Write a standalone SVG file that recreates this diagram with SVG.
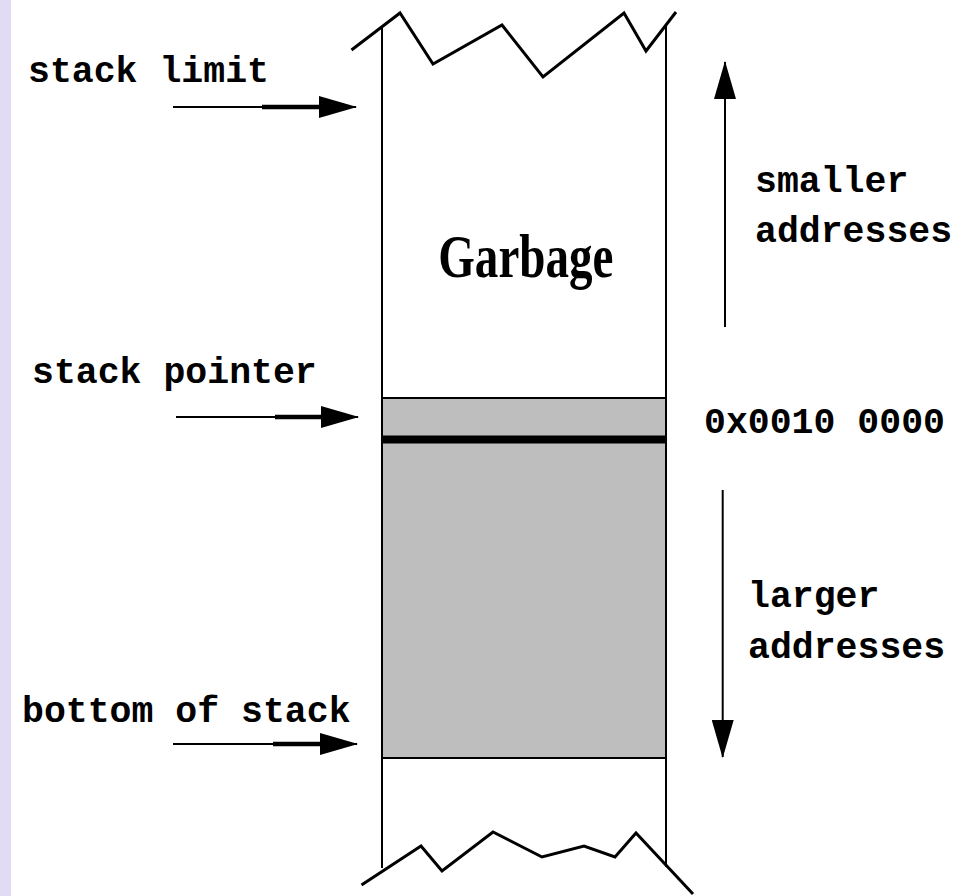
<svg xmlns="http://www.w3.org/2000/svg" width="971" height="896" viewBox="0 0 971 896">
  <style>
    .mono { font-family: "Liberation Mono", "Courier New", monospace; font-weight: bold; font-size: 36.5px; fill: #000; }
    .serif { font-family: "Liberation Serif", "Times New Roman", serif; font-weight: bold; font-size: 62px; fill: #000; }
    .edge { stroke: #000; stroke-width: 2; fill: none; }
    .used { stroke: #000; stroke-width: 2; fill: #bebebe; }
    .zig { stroke: #000; stroke-width: 3; fill: none; stroke-linejoin: miter; }
    .shaft { stroke: #000; stroke-width: 2; fill: none; }
    .thick { stroke: #000; stroke-width: 4.5; fill: none; }
  </style>
  <defs>
    <marker id="head" viewBox="0 0 38 22" refX="37" refY="11" markerWidth="38" markerHeight="22" markerUnits="userSpaceOnUse" orient="auto">
      <path d="M0,0 L38,11 L0,22 Z" fill="#000"/>
    </marker>
  </defs>

  <rect width="971" height="896" fill="#fff"/>
  <!-- side strip -->
  <rect x="0" y="0" width="11" height="896" fill="#e1dbf5"/>

  <!-- memory column -->
  <g id="stack-column">
    <rect x="382" y="398" width="284" height="360" class="used"/>
    <line x1="382" y1="439.5" x2="666" y2="439.5" stroke="#000" stroke-width="8"/>
    <line x1="382" y1="27" x2="382" y2="868" class="edge"/>
    <line x1="666" y1="25" x2="666" y2="867" class="edge"/>
    <polyline class="zig" points="351.5,50 400,13 433,64 502,25 543,77 624,13 646,51 676,12"/>
    <polyline class="zig" points="361.5,885 421,846 442,871 493,832 542,857 584,846 615,857 636,833 693,894"/>
    <text class="serif" x="525.8" y="277" text-anchor="middle" textLength="175" lengthAdjust="spacingAndGlyphs">Garbage</text>
  </g>

  <!-- labels -->
  <g id="label-stack-limit"><text class="mono" x="28" y="82">stack limit</text></g>
  <g id="label-stack-pointer"><text class="mono" x="32" y="383">stack pointer</text></g>
  <g id="label-bottom"><text class="mono" x="22" y="722">bottom of stack</text></g>
  <g id="label-smaller">
    <text class="mono" x="755" y="192">smaller</text>
    <text class="mono" x="755" y="242">addresses</text>
  </g>
  <g id="label-larger">
    <text class="mono" x="748" y="607">larger</text>
    <text class="mono" x="748" y="658">addresses</text>
  </g>
  <g id="label-address"><text class="mono" x="704" y="433">0x0010 0000</text></g>

  <!-- connectors -->
  <g id="connectors">
    <line class="shaft" x1="173" y1="107" x2="356" y2="107" marker-end="url(#head)"/>
    <line class="thick" x1="262" y1="107" x2="322" y2="107"/>
    <line class="shaft" x1="176" y1="417" x2="358" y2="417" marker-end="url(#head)"/>
    <line class="thick" x1="275" y1="417" x2="324" y2="417"/>
    <line class="shaft" x1="173" y1="744" x2="357" y2="744" marker-end="url(#head)"/>
    <line class="thick" x1="273" y1="744" x2="323" y2="744"/>
    <line class="shaft" x1="725" y1="327" x2="725" y2="62" marker-end="url(#head)"/>
    <line class="shaft" x1="722.7" y1="490" x2="722.7" y2="757" marker-end="url(#head)"/>
  </g>
</svg>
